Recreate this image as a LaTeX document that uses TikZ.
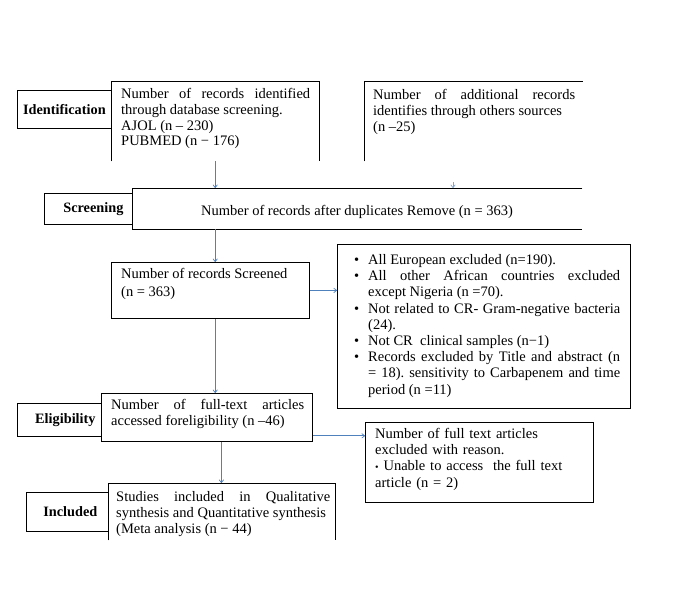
\documentclass[tikz,border=0pt]{standalone}
\usepackage{fontspec}
\setmainfont{Liberation Serif}
\usetikzlibrary{arrows.meta}
\definecolor{arrowblue}{HTML}{4F81BD}
\frenchspacing
\begin{document}
\begin{tikzpicture}[x=1pt,y=-1pt,
  frame/.style={line width=0.8pt},
  boxshape/.style={draw=none, fill=white, inner sep=0pt, anchor=north west},
  closedbox/.style={draw, line width=0.8pt, fill=white, inner sep=0pt, anchor=north west},
  lbl/.style={draw, line width=0.8pt, inner sep=0pt, anchor=north west, font=\bfseries\fontsize{14.3}{16}\selectfont},
  txt/.style={inner sep=0pt, anchor=base west, align=justify, font=\fontsize{14.5}{15.8}\selectfont},
  arr/.style={draw=arrowblue, line width=0.7pt, -{To[length=3.5pt,width=5pt]}},
]
\useasboundingbox (0,0) rectangle (675,590);
% stage labels
\node[lbl, minimum width=94pt, minimum height=38pt] (idl) at (17,90) {Identification};
\node[lbl, minimum width=98pt, minimum height=31pt] (scl) at (44,193) {Screening};
\node[lbl, minimum width=96pt, minimum height=33pt] (ell) at (17,403) {Eligibility};
\node[lbl, minimum width=88pt, minimum height=39pt] (inl) at (26,492) {Included};
% records identified
\node[boxshape, minimum width=208pt, minimum height=80pt] (rec) at (111,81) {};
\draw[frame] (rec.south west) -- (rec.north west) -- (rec.north east) -- (rec.south east);
\node[txt, text width=189pt] (rect) at (121,98.5) {Number of records identified\linebreak through database screening.\\ AJOL (n – 230)\\ PUBMED (n − 176)};
% additional records
\node[boxshape, minimum width=219pt, minimum height=80pt] (add) at (364,81) {};
\draw[frame] (add.south west) -- (add.north west) -- (add.north east);
\node[txt, text width=202pt] (addt) at (373,99.5) {Number of additional records\linebreak identifies through others sources\\ (n –25)};
% screening
\node[boxshape, minimum width=450pt, minimum height=41pt] (scr) at (132,188) {};
\draw[frame] (scr.north east) -- (scr.north west) -- (scr.south west) -- (scr.south east);
\node[txt, anchor=base] (scrt) at (357,215.5) {Number of records after duplicates Remove (n = 363)};
% screened
\node[closedbox, minimum width=198pt, minimum height=56pt] (scd) at (111,262) {};
\node[txt, text width=180pt, font=\fontsize{14.5}{18}\selectfont] (scdt) at (121,278.5) {Number of records Screened\\ (n = 363)};
% exclusions
\node[closedbox, minimum width=293pt, minimum height=164pt] (exc) at (337,244) {};
\node[txt, text width=252pt, font=\fontsize{14.5}{16.2}\selectfont] (exct) at (368,264.5) {\llap{•\hspace{9pt}}All European excluded (n=190).\\
\llap{•\hspace{9pt}}All other African countries excluded\linebreak except Nigeria (n =70).\\
\llap{•\hspace{9pt}}Not related to CR- Gram-negative bacteria\linebreak (24).\\
\llap{•\hspace{9pt}}Not CR\ \ clinical samples (n−1)\\
\llap{•\hspace{9pt}}Records excluded by Title and abstract (n\linebreak = 18). sensitivity to Carbapenem and time\linebreak period (n =11)};
% full-text
\node[closedbox, minimum width=211pt, minimum height=48pt] (ft) at (101,393) {};
\node[txt, text width=193pt] (ftt) at (111,409.5) {Number of full-text articles\linebreak accessed foreligibility (n –46)};
% full-text excluded
\node[closedbox, minimum width=228pt, minimum height=80pt] (fte) at (365,422) {};
\node[txt, text width=210pt, align=left] (ftet) at (375,438.5) {Number of full text articles\\ excluded with reason.\\ {\fontsize{10}{10}\selectfont•} Unable to access\ \ the full text\\[2pt] article (n = 2)};
% included
\node[boxshape, minimum width=227pt, minimum height=57pt] (stu) at (108,483) {};
\draw[frame] (stu.south west) -- (stu.north west) -- (stu.north east) -- (stu.south east);
\node[txt, text width=214pt] (stut) at (116,501.5) {Studies included in Qualitative\linebreak synthesis and Quantitative synthesis\\ (Meta analysis (n − 44)};
% connectors
\coordinate (addv) at (453,182);
\draw[arr] (rec.south) -- (rec.south |- scr.north);
\draw[arr, draw=arrowblue!70] (addv) -- (addv |- scr.north);
\draw[arr] (scr.south -| rec.south) -- (scd.north -| rec.south);
\draw[arr] (scd.east) -- (scd.east -| exc.west);
\draw[arr] (scd.south -| rec.south) -- (ft.north -| rec.south);
\coordinate (ftout) at ([yshift=6pt]ft.south east);
\draw[arr] (ftout) -- (ftout -| fte.west);
\coordinate (ftdown) at ([xshift=14.5pt]ft.south);
\draw[arr] (ftdown) -- (ftdown |- stu.north);
\end{tikzpicture}
\end{document}
